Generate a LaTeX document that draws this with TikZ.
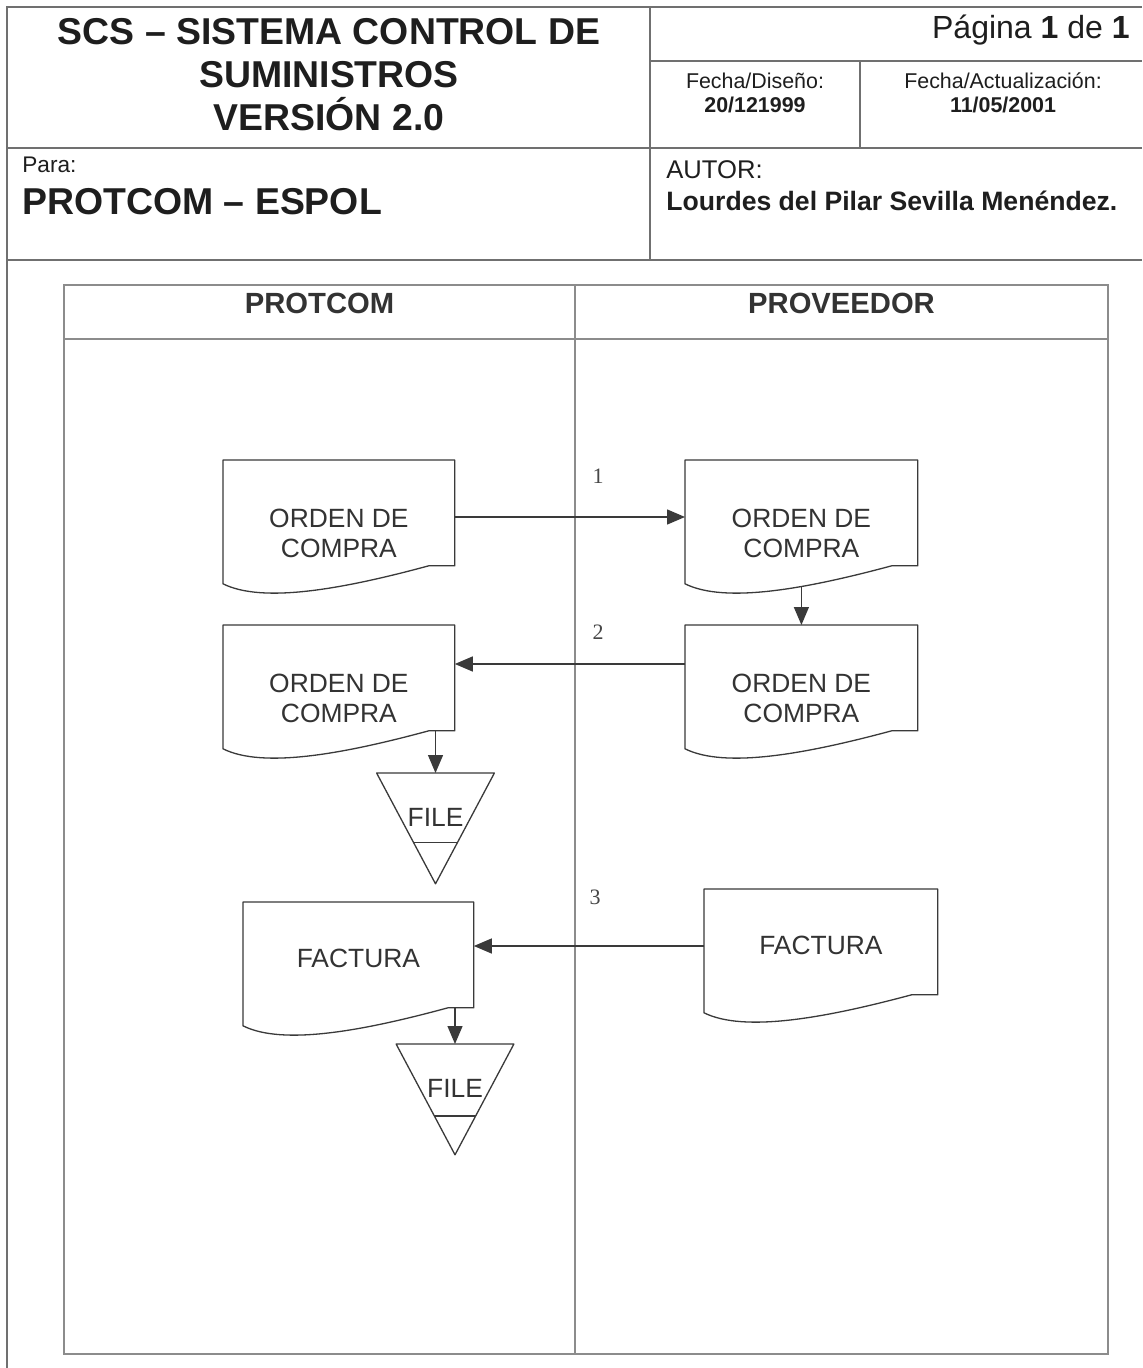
\documentclass[tikz,border=0pt]{standalone}
\usepackage{fontspec}
\setmainfont{Liberation Sans}
\newfontfamily\numfont{Liberation Serif}
\usetikzlibrary{arrows.meta,calc}
\definecolor{frameC}{HTML}{707070}
\definecolor{laneC}{HTML}{8C8C8C}
\definecolor{shapeC}{HTML}{3A3A3A}
\definecolor{txtC}{HTML}{1E1E1E}
\definecolor{docTxt}{HTML}{333333}
\tikzset{
  frame/.style={draw=frameC, line width=1pt},
  laneline/.style={draw=laneC, line width=0.6pt},
  shapeline/.style={draw=shapeC, line width=0.65pt, line join=round},
  docbox/.style={draw=none, inner sep=0pt, minimum height=52.5pt, anchor=north west},
  filebox/.style={draw=none, inner sep=0pt, minimum width=58.5pt, minimum height=55pt, anchor=north},
  doctext/.style={inner sep=0pt, align=center, text=docTxt, font=\fontsize{13.2}{15}\selectfont},
  lanehead/.style={inner sep=0pt, text=docTxt, font=\fontsize{14.6}{17}\selectfont\bfseries},
  numlabel/.style={inner sep=0pt, text=docTxt!90, font=\fontsize{11}{13}\selectfont\numfont},
  arr/.style={draw=shapeC, line width=0.65pt, -{Triangle[length=9pt,width=7.5pt]}},
  hdr/.style={inner sep=0pt, text=txtC},
}
\newcommand\docshape[6]{% name, left, top, width, text offset, text
  \node[docbox, minimum width={#4*0.5pt}] (#1) at (#2,#3) {};
  \draw[shapeline] (#1.north west) -- (#1.north east) -- (#1.south east)
     -- ++({-#4/231*26},0)
     .. controls +({-#4/231*85},23) and +({#4/231*40},20) .. ($(#1.south west)+(0,18)$) -- cycle;
  \node[doctext] (#1t) at ($(#1.north)+(0,#5)$) {#6};
}
\newcommand\fileshape[4]{% name, apex-top x, top y, line fraction
  \node[filebox] (#1) at (#2,#3) {};
  \draw[shapeline] (#1.north west) -- (#1.north east) -- (#1.south) -- cycle;
  \draw[shapeline] ($(#1.north west)!#4!(#1.south)$) -- ($(#1.north east)!#4!(#1.south)$);
  \node[doctext] (#1t) at ($(#1.north)+(0,44)$) {FILE};
}
\begin{document}
\begin{tikzpicture}[x=0.5pt,y=-0.5pt]
\useasboundingbox (0,0) rectangle (1142,1368);
\fill[white] (0,0) rectangle (1142,1368);

% ---------- header frame ----------
\draw[frame] (7,1368) -- (7,7) -- (1142,7);
\draw[frame] (7,148) -- (1142,148);
\draw[frame] (7,260) -- (1142,260);
\draw[frame] (650,7) -- (650,260);
\draw[frame] (650,61) -- (1142,61);
\draw[frame] (860,61) -- (860,148);

% ---------- header texts ----------
\node[hdr, align=center, font=\fontsize{18.7}{21.5}\selectfont\bfseries] (title) at (329,75)
  {SCS – SISTEMA CONTROL DE\\SUMINISTROS\\VERSIÓN 2.0};
\node[hdr, anchor=base east, font=\fontsize{16}{19}\selectfont] (pagina) at (1130,39)
  {Página \textbf{1} de \textbf{1}};
\node[hdr, align=center, font=\fontsize{10.7}{12}\selectfont] (fdis) at (755,93)
  {Fecha/Diseño:\\\textbf{20/121999}};
\node[hdr, align=center, font=\fontsize{10.7}{12}\selectfont] (fact) at (1003,93)
  {Fecha/Actualización:\\\textbf{11/05/2001}};
\node[hdr, anchor=base west, font=\fontsize{11.3}{13}\selectfont] (para) at (22,173) {Para:};
\node[hdr, anchor=base west, font=\fontsize{18.7}{21}\selectfont\bfseries] (paraV) at (22,215) {PROTCOM – ESPOL};
\node[hdr, anchor=base west, font=\fontsize{12.8}{15}\selectfont] (autor) at (666,179) {AUTOR:};
\node[hdr, anchor=base west, font=\fontsize{13.3}{16}\selectfont\bfseries] (autorV) at (666,210.5)
  {Lourdes del Pilar Sevilla Menéndez.};

% ---------- swimlanes ----------
\draw[laneline] (64,285) rectangle (1108,1354);
\draw[laneline] (64,339) -- (1108,339);
\draw[laneline] (575,285) -- (575,1354);
\node[lanehead] (laneA) at (319.5,303) {PROTCOM};
\node[lanehead] (laneB) at (841.5,303) {PROVEEDOR};

% ---------- shapes ----------
\docshape{a}{223}{460}{231}{73}{ORDEN DE\\COMPRA}
\docshape{b}{685}{460}{232}{73}{ORDEN DE\\COMPRA}
\docshape{c}{685}{625}{232}{73}{ORDEN DE\\COMPRA}
\docshape{d}{223}{625}{231}{73}{ORDEN DE\\COMPRA}
\docshape{e}{243}{902}{230}{56}{FACTURA}
\docshape{f}{704}{889}{233}{56}{FACTURA}
\fileshape{fa}{435.5}{773}{0.63}
\fileshape{fb}{455}{1044}{0.65}

% ---------- connectors ----------
\draw[arr] ($(a.north east)+(0,57)$) -- ($(b.north west)+(0,57)$);
\draw[arr] ($(b.south)+(0,21)$) -- (c.north);
\draw[arr] ($(c.north west)+(0,39)$) -- ($(d.north east)+(0,39)$);
\draw[arr] (fa.north |- d.south east) -- (fa.north);
\draw[arr] ($(f.north west)+(0,57)$) -- ($(e.north east)+(0,44)$);
\draw[arr] (fb.north |- e.south east) -- (fb.north);

\node[numlabel] (n1) at (598,476) {1};
\node[numlabel] (n2) at (598,632) {2};
\node[numlabel] (n3) at (595,897) {3};
\end{tikzpicture}
\end{document}
